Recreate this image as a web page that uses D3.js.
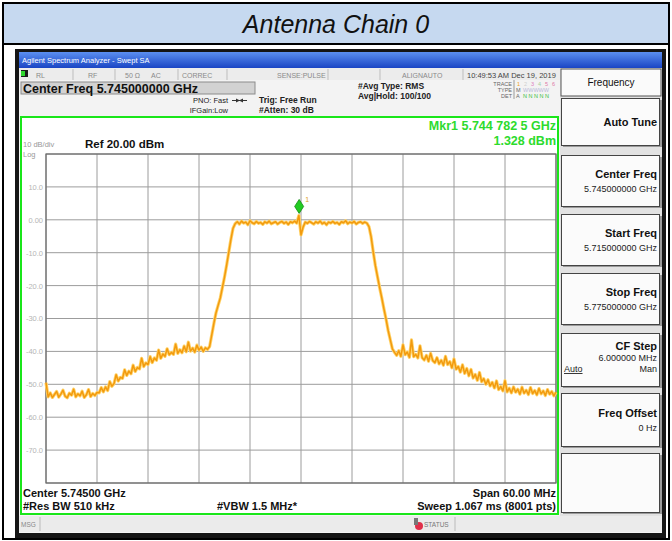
<!DOCTYPE html>
<html>
<head>
<meta charset="utf-8">
<script src="https://cdn.jsdelivr.net/npm/d3@7"></script>
<style>
body{margin:0;background:#fff;}
svg{display:block;font-family:"Liberation Sans",Arial,sans-serif;}
</style>
</head>
<body>
<div class="chart"></div>
<script>
// sweep settings
const startFreqGHz = 5.715;
const stopFreqGHz = 5.775;
const refLevel = 20;
const bottomLevel = -80;

// trace, one value every 0.25 MHz
const traceDbm = [
  -49.5,-53.8,-52.6,-54.0,-53.1,-52.2,-53.9,-53.0,-51.8,-53.6,-54.1,-52.7,-53.3,-51.5,-53.8,-52.9,-53.5,-52.1,-54.0,-53.2,
  -51.6,-53.7,-52.8,-53.4,-52.5,-52.6,-51.0,-52.3,-50.8,-51.9,-49.2,-50.6,-49.8,-47.1,-49.0,-47.9,-48.2,-45.6,-47.3,-46.0,
  -46.8,-44.2,-46.1,-44.9,-45.3,-42.1,-44.6,-43.5,-44.0,-41.6,-43.4,-42.0,-42.7,-39.6,-42.1,-40.8,-41.5,-39.2,-41.0,-40.3,
  -40.9,-37.8,-40.6,-39.5,-40.4,-38.4,-40.1,-37.2,-39.9,-39.0,-40.2,-38.1,-39.6,-38.7,-40.0,-38.9,-39.4,-38.5,-35.0,-31.5,
  -28.3,-26.0,-23.8,-20.6,-17.4,-13.8,-9.9,-6.0,-2.6,-1.2,-0.6,-1.3,-0.4,-1.0,-0.7,-1.5,-0.3,-0.9,-1.2,-0.5,
  -1.1,-0.8,-1.4,-0.6,-1.0,-0.4,-1.2,-0.9,-0.6,-1.3,-0.8,-0.5,-1.1,-0.7,-1.4,-0.6,-0.9,-0.4,-1.0,1.3,
  -4.6,-2.2,-0.7,-1.1,-0.5,-0.9,-1.3,-0.6,-1.0,-0.4,-1.2,-0.8,-1.5,-0.7,-1.0,-0.5,-1.1,-0.8,-1.4,-0.6,
  -0.9,-0.3,-1.2,-0.7,-1.0,-0.5,-1.3,-0.8,-0.6,-1.1,-0.7,-1.0,-2.1,-5.2,-9.8,-13.9,-17.3,-20.6,-23.7,-27.0,
  -30.1,-33.6,-36.4,-39.2,-40.3,-41.2,-39.8,-41.5,-38.0,-41.0,-40.2,-41.8,-36.5,-41.6,-40.9,-42.0,-38.3,-41.9,-42.6,-41.2,
  -43.0,-40.6,-42.8,-43.4,-41.9,-43.8,-42.7,-44.2,-41.5,-44.0,-43.1,-45.0,-42.3,-45.4,-44.6,-46.3,-44.1,-46.7,-45.2,-47.4,
  -45.5,-48.1,-47.0,-48.8,-46.4,-49.2,-48.3,-50.0,-48.6,-50.5,-49.4,-51.1,-49.0,-51.6,-50.7,-52.0,-48.9,-52.3,-51.2,-52.6,
  -50.8,-52.4,-51.5,-53.0,-50.9,-52.7,-51.8,-53.1,-51.0,-52.8,-51.9,-53.2,-51.3,-52.9,-52.0,-53.4,-51.6,-53.0,-52.2,-53.5,
  -52.4
];

const yTickValues = [10, 0, -10, -20, -30, -40, -50, -60, -70];
const yTickLabels = ["10.0", "0.00", "-10.0", "-20.0", "-30.0", "-40.0", "-50.0", "-60.0", "-70.0"];
const xDivisions = 10;

const markerFreqGHz = 5.7447825;
const markerDbm = 1.328;

const statusCells = ["RL", "RF", "50 \u03A9", "AC", "CORREC", "SENSE:PULSE", "ALIGNAUTO", "10:49:53 AM Dec 19, 2019"];
const softkeyTitles = ["Auto Tune", "Center Freq", "Start Freq", "Stop Freq", "CF Step", "Freq Offset", ""];
const softkeyValues = ["", "5.745000000 GHz", "5.715000000 GHz", "5.775000000 GHz", "6.000000 MHz", "0 Hz", ""];

const W = 672, H = 541;
const svg = d3.select("div.chart").append("svg")
  .attr("width", W).attr("height", H);

//outer table + title
svg.append("rect").attr("x", 3).attr("y", 3).attr("width", 666).attr("height", 41)
  .attr("fill", "#c6d9f0");
svg.append("rect").attr("x", 3).attr("y", 3).attr("width", 666).attr("height", 536)
  .attr("fill", "none").attr("stroke", "#000").attr("stroke-width", 2);
svg.append("line").attr("x1", 3).attr("x2", 669).attr("y1", 44).attr("y2", 44)
  .attr("stroke", "#000").attr("stroke-width", 2);
svg.append("text").attr("x", 336).attr("y", 33).attr("text-anchor", "middle")
  .attr("font-size", 25).attr("font-style", "italic").attr("fill", "#111")
  .text("Antenna Chain 0");

//analyzer screen frame
svg.append("rect").attr("x", 15).attr("y", 49).attr("width", 651).attr("height", 489).attr("fill", "#151515");
svg.append("rect").attr("x", 19).attr("y", 52).attr("width", 643).attr("height", 481).attr("fill", "#f3f3f3");

var defs = svg.append("defs");
var grad = defs.append("linearGradient").attr("id", "bluebar").attr("x1", 0).attr("x2", 0).attr("y1", 0).attr("y2", 1);
grad.append("stop").attr("offset", "0%").attr("stop-color", "#5b8ff0");
grad.append("stop").attr("offset", "100%").attr("stop-color", "#1a45c4");

svg.append("rect").attr("x", 19).attr("y", 52).attr("width", 643).attr("height", 16).attr("fill", "url(#bluebar)");
svg.append("text").attr("x", 22).attr("y", 63).attr("font-size", 7.5).attr("fill", "#fff")
  .text("Agilent Spectrum Analyzer - Swept SA");

//status row
svg.append("rect").attr("x", 19).attr("y", 68).attr("width", 541).attr("height", 12).attr("fill", "#ececec");
svg.append("rect").attr("x", 21).attr("y", 70).attr("width", 7).attr("height", 7).attr("fill", "#1c1c1c");
svg.append("rect").attr("x", 21).attr("y", 71).attr("width", 4).attr("height", 5).attr("fill", "#2fd82f");
var cellX = [36, 88, 125, 151, 182, 277, 402, 467];
var dividers = [73, 115, 178, 227, 328, 380, 463];
dividers.forEach(function(d){
  svg.append("line").attr("x1", d).attr("x2", d).attr("y1", 69).attr("y2", 80)
    .attr("stroke", "#bdbdbd").attr("stroke-width", 1);
});
statusCells.forEach(function(t, i){
  svg.append("text").attr("x", cellX[i]).attr("y", 77.5)
    .attr("font-size", i === 7 ? 7.5 : 7).attr("fill", i === 7 ? "#444" : "#8a8a8a")
    .text(t);
});

//header info
svg.append("rect").attr("x", 21).attr("y", 82).attr("width", 234).attr("height", 12)
  .attr("fill", "#d2d2d2").attr("stroke", "#8c8c8c");
svg.append("text").attr("x", 23).attr("y", 92.5).attr("font-size", 12.5).attr("font-weight", "bold")
  .attr("fill", "#111").text("Center Freq 5.745000000 GHz");

var hdr = svg.append("g").attr("font-size", 8.5).attr("font-weight", "bold").attr("fill", "#222");
hdr.append("text").attr("x", 228).attr("y", 103).attr("text-anchor", "end").attr("font-size", 7.5).attr("font-weight", "normal").text("PNO: Fast");
hdr.append("text").attr("x", 228).attr("y", 113).attr("text-anchor", "end").attr("font-size", 7.5).attr("font-weight", "normal").text("IFGain:Low");
hdr.append("line").attr("x1", 232).attr("x2", 247).attr("y1", 100.5).attr("y2", 100.5).attr("stroke", "#333");
hdr.append("path").attr("d", "M236,98.5 L240,100.5 L236,102.5 Z M243,98.5 L239,100.5 L243,102.5 Z").attr("fill", "#333");
hdr.append("text").attr("x", 259).attr("y", 103).text("Trig: Free Run");
hdr.append("text").attr("x", 259).attr("y", 113).text("#Atten: 30 dB");
hdr.append("text").attr("x", 358).attr("y", 89).text("#Avg Type: RMS");
hdr.append("text").attr("x", 358).attr("y", 99).text("Avg|Hold: 100/100");

var trc = svg.append("g").attr("font-size", 5.5).attr("fill", "#666");
trc.append("text").attr("x", 512).attr("y", 86).attr("text-anchor", "end").text("TRACE");
trc.append("text").attr("x", 512).attr("y", 92).attr("text-anchor", "end").text("TYPE");
trc.append("text").attr("x", 512).attr("y", 98).attr("text-anchor", "end").text("DET");
trc.append("line").attr("x1", 514).attr("x2", 514).attr("y1", 80).attr("y2", 99).attr("stroke", "#999");
var traceNumColors = ["#f0a020", "#cfcfcf", "#e080c0", "#9fd09f", "#e07aa8", "#e07aa8"];
traceNumColors.forEach(function(c, i){
  trc.append("text").attr("x", 517 + i * 7).attr("y", 86).attr("fill", c).text(i + 1);
});
trc.append("text").attr("x", 516).attr("y", 92).text("M");
trc.append("text").attr("x", 523).attr("y", 92).attr("fill", "#b9b9d9").text("WWWWW");
trc.append("text").attr("x", 516).attr("y", 98).text("A");
trc.append("text").attr("x", 523).attr("y", 98).attr("fill", "#40c040").text("N N N N N");

//graph area
svg.append("rect").attr("x", 21).attr("y", 117).attr("width", 537).attr("height", 397)
  .attr("fill", "#fff").attr("stroke", "#19e619").attr("stroke-width", 2);

const plot = {left: 46, right: 556, top: 154, bottom: 483};

const x = d3.scaleLinear().domain([startFreqGHz, stopFreqGHz]).range([plot.left, plot.right]);
const y = d3.scaleLinear().domain([bottomLevel, refLevel]).range([plot.bottom, plot.top]);

const stepGHz = (stopFreqGHz - startFreqGHz) / (traceDbm.length - 1);
const points = traceDbm.map(function(v, i){ return [startFreqGHz + i * stepGHz, v]; });

//grid
var grid = svg.append("g");
var xGridVals = d3.range(xDivisions + 1).map(function(i){ return startFreqGHz + i * (stopFreqGHz - startFreqGHz) / xDivisions; });
grid.selectAll(".vgrid").data(xGridVals).enter().append("line")
  .attr("x1", function(d){ return x(d); }).attr("x2", function(d){ return x(d); })
  .attr("y1", plot.top).attr("y2", plot.bottom)
  .attr("stroke", "#9c9c9c").attr("stroke-width", 1);
grid.selectAll(".hgrid").data(d3.range(bottomLevel, refLevel + 1, 10)).enter().append("line")
  .attr("x1", plot.left).attr("x2", plot.right)
  .attr("y1", function(d){ return y(d); }).attr("y2", function(d){ return y(d); })
  .attr("stroke", "#9c9c9c").attr("stroke-width", 1);
grid.append("rect").attr("x", plot.left).attr("y", plot.top)
  .attr("width", plot.right - plot.left).attr("height", plot.bottom - plot.top)
  .attr("fill", "none").attr("stroke", "#6a6a6a").attr("stroke-width", 1.2);

//y axis labels
var yAxis = d3.axisLeft(y).tickValues(yTickValues)
  .tickFormat(function(d, i){ return yTickLabels[i]; })
  .tickSize(0).tickPadding(3);
var yg = svg.append("g").attr("transform", "translate(" + plot.left + ",0)").call(yAxis);
yg.select(".domain").remove();
yg.selectAll("text").attr("font-size", 7.5).attr("fill", "#b5b5b5")
  .attr("font-family", "'Liberation Sans', Arial, sans-serif");

//scale texts
svg.append("text").attr("x", 23).attr("y", 147).attr("font-size", 7.5).attr("fill", "#999").text("10 dB/div");
svg.append("text").attr("x", 23).attr("y", 156.5).attr("font-size", 7.5).attr("fill", "#999").text("Log");
svg.append("text").attr("x", 85).attr("y", 148).attr("font-size", 11.5).attr("font-weight", "bold")
  .attr("fill", "#111").text("Ref 20.00 dBm");

//trace
var line = d3.line().x(function(d){ return x(d[0]); }).y(function(d){ return y(d[1]); });
svg.append("path").datum(points).attr("d", line).attr("fill", "none")
  .attr("stroke", "#ffd36a").attr("stroke-width", 3.2).attr("stroke-linejoin", "round");
svg.append("path").datum(points).attr("d", line).attr("fill", "none")
  .attr("stroke", "#f29a0e").attr("stroke-width", 1.5).attr("stroke-linejoin", "round");

//marker
var mx = x(markerFreqGHz), my = y(markerDbm) - 9;
svg.append("path").attr("d", "M" + mx + "," + (my - 7) + " L" + (mx + 4.5) + "," + my + " L" + mx + "," + (my + 7) + " L" + (mx - 4.5) + "," + my + " Z")
  .attr("fill", "#22cc22").attr("stroke", "#138a13").attr("stroke-width", 0.8);
svg.append("text").attr("x", mx + 6).attr("y", my - 4).attr("font-size", 7).attr("fill", "#e0a020").text("1");

svg.append("text").attr("x", 556).attr("y", 130).attr("text-anchor", "end").attr("font-size", 12.5)
  .attr("font-weight", "bold").attr("fill", "#2ddb2d").text("Mkr1 5.744 782 5 GHz");
svg.append("text").attr("x", 556).attr("y", 145).attr("text-anchor", "end").attr("font-size", 12.5)
  .attr("font-weight", "bold").attr("fill", "#2ddb2d").text(markerDbm.toFixed(3) + " dBm");

//bottom annotations
var bot = svg.append("g").attr("font-size", 11).attr("font-weight", "bold").attr("fill", "#111");
bot.append("text").attr("x", 23).attr("y", 497).text("Center 5.74500 GHz");
bot.append("text").attr("x", 23).attr("y", 510).text("#Res BW 510 kHz");
bot.append("text").attr("x", 217).attr("y", 510).text("#VBW 1.5 MHz*");
bot.append("text").attr("x", 556).attr("y", 497).attr("text-anchor", "end").text("Span 60.00 MHz");
bot.append("text").attr("x", 556).attr("y", 510).attr("text-anchor", "end").text("Sweep  1.067 ms (8001 pts)");

//message bar
svg.append("rect").attr("x", 19).attr("y", 516).attr("width", 643).attr("height", 16).attr("fill", "#ebebeb");
svg.append("line").attr("x1", 40).attr("x2", 40).attr("y1", 517).attr("y2", 531).attr("stroke", "#bbb");
svg.append("text").attr("x", 21).attr("y", 527).attr("font-size", 6.5).attr("fill", "#888").text("MSG");
svg.append("circle").attr("cx", 419).attr("cy", 526).attr("r", 4).attr("fill", "#e0304a");
svg.append("rect").attr("x", 414).attr("y", 518).attr("width", 4).attr("height", 7).attr("fill", "#777");
svg.append("text").attr("x", 424).attr("y", 527).attr("font-size", 6.5).attr("fill", "#777").text("STATUS");
svg.append("line").attr("x1", 455).attr("x2", 455).attr("y1", 517).attr("y2", 531).attr("stroke", "#bbb");

//softkey panel
svg.append("rect").attr("x", 560).attr("y", 68).attr("width", 102).attr("height", 448).attr("fill", "#e2e2e2");
svg.append("rect").attr("x", 561).attr("y", 69).attr("width", 100).attr("height", 27)
  .attr("fill", "#fafafa").attr("stroke", "#555");
svg.append("text").attr("x", 611).attr("y", 86).attr("text-anchor", "middle").attr("font-size", 10)
  .attr("fill", "#111").text("Frequency");

var keyTops = [98, 155, 214, 273, 333, 393, 453];
var keyBottoms = [145, 206, 265, 324, 386, 446, 512];
softkeyTitles.forEach(function(t, i){
  var top = keyTops[i], bottom = keyBottoms[i];
  svg.append("rect").attr("x", 563).attr("y", top + 2).attr("width", 99).attr("height", bottom - top)
    .attr("fill", "#9a9a9a");
  svg.append("rect").attr("x", 561.5).attr("y", top + 0.5).attr("width", 98).attr("height", bottom - top)
    .attr("fill", "#fbfbfb").attr("stroke", "#444").attr("stroke-width", 1);
  var mid = (top + bottom) / 2;
  if (i === 0) {
    svg.append("text").attr("x", 657).attr("y", mid + 4).attr("text-anchor", "end")
      .attr("font-size", 11).attr("font-weight", "bold").attr("fill", "#111").text(t);
  } else if (i === 4) {
    svg.append("text").attr("x", 657).attr("y", top + 17).attr("text-anchor", "end")
      .attr("font-size", 11).attr("font-weight", "bold").attr("fill", "#111").text(t);
    svg.append("text").attr("x", 657).attr("y", top + 28).attr("text-anchor", "end")
      .attr("font-size", 9).attr("fill", "#222").text(softkeyValues[i]);
    svg.append("text").attr("x", 564).attr("y", top + 39).attr("font-size", 9)
      .attr("text-decoration", "underline").attr("fill", "#222").text("Auto");
    svg.append("text").attr("x", 657).attr("y", top + 39).attr("text-anchor", "end")
      .attr("font-size", 9).attr("fill", "#222").text("Man");
  } else if (t !== "") {
    svg.append("text").attr("x", 657).attr("y", mid - 3).attr("text-anchor", "end")
      .attr("font-size", 11).attr("font-weight", "bold").attr("fill", "#111").text(t);
    svg.append("text").attr("x", 657).attr("y", mid + 11).attr("text-anchor", "end")
      .attr("font-size", 9).attr("fill", "#222").text(softkeyValues[i]);
  }
});
</script>
</body>
</html>
